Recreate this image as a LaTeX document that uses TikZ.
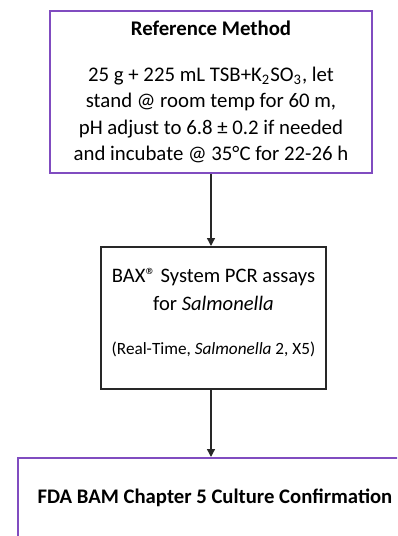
\documentclass[tikz,border=0pt]{standalone}
\usepackage{fontspec}
\setmainfont{Carlito}
\usetikzlibrary{arrows.meta}
\definecolor{boxpurple}{RGB}{128,76,192}
\definecolor{boxgray}{RGB}{40,40,40}

\begin{document}
\begin{tikzpicture}[x=0.5pt,y=-0.5pt,
  purplebox/.style={shape=rectangle,draw=boxpurple,line width=1pt,align=center,inner sep=0pt},
  graybox/.style={shape=rectangle,draw=boxgray,line width=1pt,align=center,inner sep=0pt},
  flow/.style={draw=boxgray,line width=0.7pt,-{Triangle[length=4pt,width=4pt]}}]

\path[use as bounding box,clip] (0,0) rectangle (397,536);

% Top box
\node [purplebox,minimum width=161pt,minimum height=81pt,font=\fontsize{10.4}{13.25}\selectfont] at (211,92) (refm)
  {{\bfseries Reference Method}\\[9.75pt]
   25 g + 225 mL TSB+K\textsubscript{2}SO\textsubscript{3}, let\\
   stand @ room temp for 60 m,\\
   pH adjust to 6.8 ± 0.2 if needed\\
   and incubate @ 35°C for 22-26 h};

% Middle box
\node [graybox,minimum width=112.5pt,minimum height=71pt,text depth=7pt,font=\fontsize{10.3}{14}\selectfont] at (213.5,318) (bax)
  {BAX® System PCR assays\\
   for \textit{Salmonella}\\[8pt]
   {\fontsize{8.6}{10}\selectfont (Real-Time, \textit{Salmonella} 2, X5)}};

% Bottom box
\node [purplebox,minimum width=197pt,minimum height=40pt,font=\fontsize{10.35}{12}\selectfont\bfseries] at (215,498) (fda)
  {FDA BAM Chapter 5 Culture Confirmation};

% Arrows
\draw [flow] (refm.south) -- (refm.south |- bax.north);
\draw [flow] (refm.south |- bax.south) -- (refm.south |- fda.north);

\end{tikzpicture}
\end{document}
